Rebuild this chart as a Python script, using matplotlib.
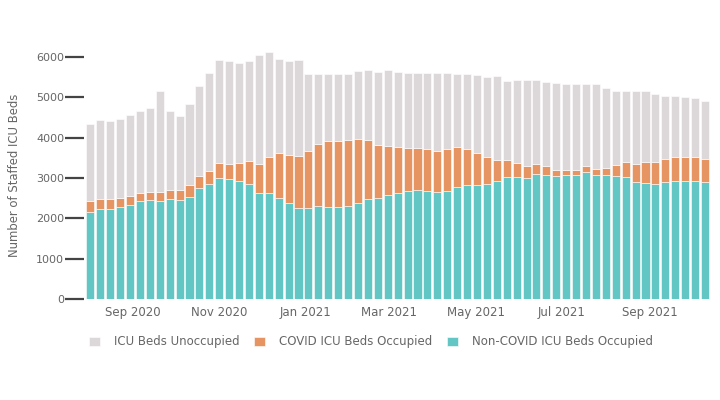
import matplotlib as mpl
mpl.use('Agg')

import matplotlib.pyplot as plt
import matplotlib.dates as mdates
import pandas as pd
import numpy as np

# Weekly data, Aug 2020 - Oct 2021
weeks = pd.date_range('2020-08-02', periods=63, freq='7D')

noncovid = [2168, 2234, 2234, 2291, 2341, 2431, 2456, 2440, 2481, 2464,
            2530, 2761, 2843, 3008, 2975, 2926, 2860, 2629, 2629, 2514,
            2382, 2258, 2266, 2299, 2283, 2275, 2316, 2390, 2481, 2505,
            2580, 2629, 2679, 2703, 2679, 2646, 2679, 2786, 2827, 2827,
            2860, 2926, 3025, 3016, 3000, 3107, 3074, 3058, 3066, 3066,
            3157, 3074, 3074, 3058, 3016, 2909, 2885, 2860, 2909, 2926,
            2918, 2926, 2893]

covid = [255, 239, 239, 223, 214, 198, 198, 214, 231, 231,
         297, 297, 338, 355, 371, 445, 560, 725, 898, 1104,
         1187, 1286, 1402, 1533, 1632, 1648, 1632, 1574, 1459, 1303,
         1211, 1146, 1071, 1047, 1038, 1022, 1038, 972, 882, 783,
         667, 519, 420, 347, 288, 231, 214, 148, 140, 132,
         140, 157, 173, 255, 371, 437, 502, 544, 561, 593,
         601, 585, 577]

unoccupied = [1912, 1961, 1945, 1945, 2003, 2028, 2093, 2497, 1945, 1838,
              2003, 2225, 2423, 2571, 2563, 2481, 2481, 2687, 2605, 2324,
              2324, 2374, 1920, 1739, 1656, 1665, 1640, 1698, 1730, 1821,
              1879, 1862, 1863, 1846, 1887, 1928, 1879, 1813, 1862, 1937,
              1978, 2077, 1970, 2077, 2152, 2102, 2086, 2151, 2126, 2126,
              2035, 2110, 1987, 1855, 1781, 1813, 1781, 1681, 1557, 1517,
              1492, 1484, 1450]

colors = {"unocc": "#DCD7D8", "covid": "#E69461", "noncovid": "#62C6C5"}
font_color = "#666666"

noncovid = np.array(noncovid)
covid = np.array(covid)
unoccupied = np.array(unoccupied)

fig = plt.figure(figsize=(7.2, 4), dpi=100)
ax = fig.add_axes([0.117, 0.2525, 0.872, 0.6725])

w = 5.7
ax.bar(weeks, noncovid, width=w, color=colors["noncovid"], edgecolor='white', linewidth=0.4,
       label='Non-COVID ICU Beds Occupied')
ax.bar(weeks, covid, width=w, bottom=noncovid, color=colors["covid"], edgecolor='white', linewidth=0.4,
       label='COVID ICU Beds Occupied')
ax.bar(weeks, unoccupied, width=w, bottom=noncovid + covid, color=colors["unocc"], edgecolor='white',
       linewidth=0.4, label='ICU Beds Unoccupied')

ax.set_ylim(0, 6670)
ax.set_xlim(weeks[0] - pd.Timedelta(days=4.3), weeks[-1] + pd.Timedelta(days=5))
ax.set_yticks([0, 1000, 2000, 3000, 4000, 5000, 6000])

ax.xaxis.set_major_locator(mdates.MonthLocator(bymonth=[1, 3, 5, 7, 9, 11]))
ax.xaxis.set_major_formatter(mdates.DateFormatter('%b %Y'))

for s in ax.spines.values():
    s.set_visible(False)

ax.tick_params(axis='y', length=13.5, width=1.6, color='#444444', labelcolor=font_color,
               labelsize=8, pad=1)
ax.tick_params(axis='x', length=0, labelcolor=font_color, labelsize=8.5, pad=5)

ax.set_ylabel("Number of Staffed ICU Beds", color=font_color, fontsize=8.4)
ax.yaxis.set_label_coords(-0.1, 0.46)

handles, labels = ax.get_legend_handles_labels()
fig.legend(handles[::-1], labels[::-1], loc='center', bbox_to_anchor=(0.515, 0.145), ncol=3,
           frameon=False, fontsize=8.5, labelcolor=font_color, handlelength=0.9, handleheight=0.9,
           handletextpad=1.2, columnspacing=1.25)

plt.savefig('out.png', dpi=100)
